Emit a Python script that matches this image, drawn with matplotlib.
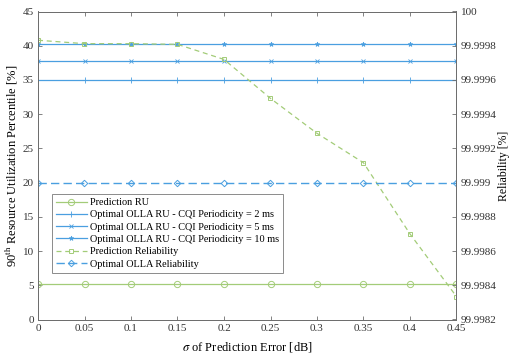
import numpy as np
import matplotlib.pyplot as plt

plt.rcParams['font.family'] = ['Liberation Serif', 'DejaVu Serif']
plt.rcParams['mathtext.fontset'] = 'stix'
plt.rcParams['font.size'] = 8

# 数据
sigma = [0, 0.05, 0.1, 0.15, 0.2, 0.25, 0.3, 0.35, 0.4, 0.45]
pred_ru = [5.2] * 10
olla_ru_2ms = [35.0] * 10
olla_ru_5ms = [37.8] * 10
olla_ru_10ms = [40.3] * 10
pred_rel = [99.999832, 99.999812, 99.999812, 99.999808, 99.99972,
            99.999492, 99.999288, 99.999116, 99.9987, 99.998334]
olla_rel = [99.9990] * 10

green = '#A3CC78'
blue = '#4A9FE0'
grey = '#6E6E6E'

fig = plt.figure(figsize=(5.09, 3.58), dpi=100)
ax1 = fig.add_axes([38 / 509, 1 - 319.5 / 358, 418.5 / 509, 308 / 358])
ax2 = ax1.twinx()

l1, = ax1.plot(sigma, pred_ru, '-o', color=green, lw=0.9, ms=4.5, mfc='none', mew=0.7,
               label='Prediction RU')
l2, = ax1.plot(sigma, olla_ru_2ms, '-+', color=blue, lw=0.9, ms=4, mew=0.6,
               label='Optimal OLLA RU - CQI Periodicity = 2 ms')
l3, = ax1.plot(sigma, olla_ru_5ms, '-x', color=blue, lw=0.9, ms=2.8, mew=0.6,
               label='Optimal OLLA RU - CQI Periodicity = 5 ms')
l4, = ax1.plot(sigma, olla_ru_10ms, '-*', color=blue, lw=0.9, ms=3.5, mew=0.5,
               label='Optimal OLLA RU - CQI Periodicity = 10 ms')
l5, = ax2.plot(sigma, pred_rel, '--s', color=green, lw=0.9, ms=3.3, mfc='none', mew=0.7,
               dashes=(4, 3), label='Prediction Reliability')
l6, = ax2.plot(sigma, olla_rel, '--D', color=blue, lw=1.0, ms=3.3, mfc='none', mew=0.7,
               dashes=(6, 3), label='Optimal OLLA Reliability')

ax1.set_xlim(0, 0.45)
ax1.set_ylim(0, 45)
ax1.set_xticks(sigma)
ax1.set_xticklabels(['0', '0.05', '0.1', '0.15', '0.2', '0.25', '0.3', '0.35', '0.4', '0.45'])
ax1.set_yticks(range(0, 46, 5))

ax2.set_ylim(99.9982, 100)
rticks = [99.9982, 99.9984, 99.9986, 99.9988, 99.999, 99.9992, 99.9994, 99.9996, 99.9998, 100]
ax2.set_yticks(rticks)
ax2.set_yticklabels(['99.9982', '99.9984', '99.9986', '99.9988', '99.999', '99.9992',
                     '99.9994', '99.9996', '99.9998', '100'])

ax1.set_xlabel(r'$\sigma$ of Prediction Error [dB]', fontsize=9, labelpad=5)
ax1.set_ylabel(r'90$^{\rm th}$ Resource Utilization Percentile [%]', fontsize=9, labelpad=2)
ax2.set_ylabel('Reliability [%]', fontsize=8.5, labelpad=1)

for ax in (ax1, ax2):
    for s in ax.spines.values():
        s.set_color(grey)
        s.set_linewidth(0.7)
    ax.tick_params(direction='in', length=3, width=0.6, color=grey, labelcolor='#333333', pad=3)
ax1.tick_params(axis='x', top=True)

leg = ax1.legend(handles=[l1, l2, l3, l4, l5, l6], loc='lower left',
                 bbox_to_anchor=(0.033, 0.152), fontsize=7.4, frameon=True, fancybox=False,
                 edgecolor=grey, handlelength=3.0, handletextpad=0.3, borderpad=0.4,
                 labelspacing=0.3, borderaxespad=0)
leg.get_frame().set_linewidth(0.7)

fig.savefig('out.png', dpi=100)
